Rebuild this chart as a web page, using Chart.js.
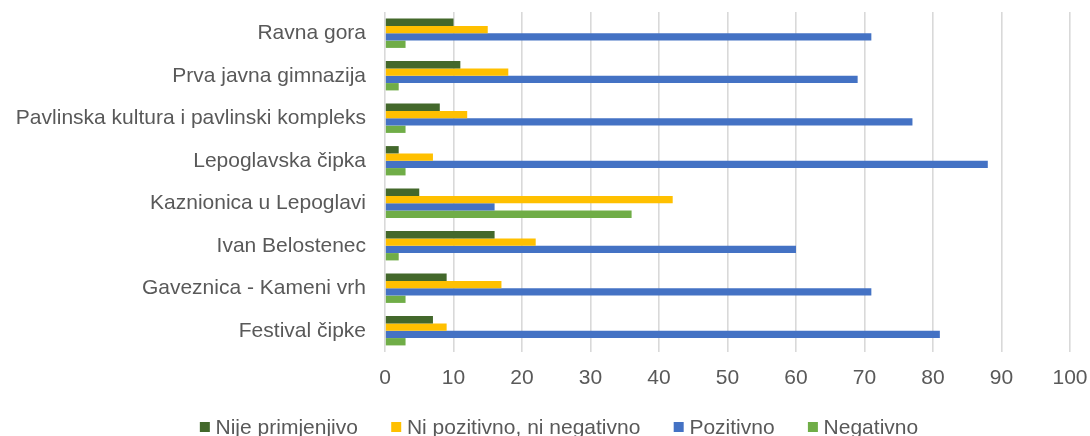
<!DOCTYPE html>
<html>
<head>
<meta charset="utf-8">
<script src="https://cdn.jsdelivr.net/npm/chart.js@4.4.1/dist/chart.umd.min.js"></script>
<style>
html,body{margin:0;padding:0;background:#fff;width:1090px;height:436px;overflow:hidden;}
#wrap{width:1090px;height:436px;position:relative;}
</style>
</head>
<body>
<div id="wrap"><canvas id="c" width="1090" height="436"></canvas></div>
<script>
const categories = ["Ravna gora","Prva javna gimnazija","Pavlinska kultura i pavlinski kompleks","Lepoglavska čipka","Kaznionica u Lepoglavi","Ivan Belostenec","Gaveznica - Kameni vrh","Festival čipke"];
const nijePrimjenjivo = [10,11,8,2,5,16,9,7];
const niPozitivnoNiNegativno = [15,18,12,7,42,22,17,9];
const pozitivno = [71,69,77,88,16,60,71,81];
const negativno = [3,2,3,3,36,2,3,3];
const xTicks = [0,10,20,30,40,50,60,70,80,90,100];

const FONT_FAMILY = '"Liberation Sans", Arial, sans-serif';
const font = {family:FONT_FAMILY, size:21};
const TEXT = '#595959';
const mk = (label, data, color) => ({label, data, backgroundColor: color, borderWidth:0, categoryPercentage:0.69, barPercentage:1.0});

// Legend drawn from the dataset labels/colours, Excel-style (small square, tight gap)
const excelLegend = {
  id:'excelLegend',
  afterDraw(chart){
    const ctx = chart.ctx;
    const items = chart.data.datasets;
    const box = 10, textOff = 15.7, gap = 33.3;
    ctx.save();
    ctx.font = '21px ' + FONT_FAMILY;
    const widths = items.map(d => ctx.measureText(d.label).width);
    const total = widths.reduce((a,b)=>a+b,0) + items.length*textOff + (items.length-1)*gap;
    let x = chart.width/2 + 14 - total/2;
    const baseline = chart.height - 1.7;
    items.forEach((d,i) => {
      ctx.fillStyle = d.backgroundColor;
      ctx.fillRect(x, baseline - 12.3, box, box);
      ctx.fillStyle = TEXT;
      ctx.textBaseline = 'alphabetic';
      ctx.textAlign = 'left';
      ctx.fillText(d.label, x + textOff, baseline);
      x += textOff + widths[i] + gap;
    });
    ctx.restore();
  }
};

new Chart(document.getElementById('c'), {
  type:'bar',
  data:{
    labels: categories,
    datasets:[
      mk('Nije primjenjivo', nijePrimjenjivo, '#43682b'),
      mk('Ni pozitivno, ni negativno', niPozitivnoNiNegativno, '#ffc000'),
      mk('Pozitivno', pozitivno, '#4472c4'),
      mk('Negativno', negativno, '#70ad47')
    ]
  },
  plugins:[excelLegend],
  options:{
    indexAxis:'y',
    responsive:false,
    animation:false,
    devicePixelRatio:1,
    layout:{padding:{left:0,right:20,top:12,bottom:0}},
    plugins:{
      legend:{display:false},
      tooltip:{enabled:false}
    },
    scales:{
      x:{
        min:0, max:100,
        afterBuildTicks: s => { s.ticks = xTicks.map(v => ({value:v})); },
        afterFit: s => { s.height = 84; s.paddingLeft = 0; s.paddingRight = 0; },
        ticks:{font:font, color:TEXT, padding:14},
        grid:{color:'#d9d9d9', lineWidth:1.6, drawTicks:false},
        border:{display:false}
      },
      y:{
        afterFit: s => { s.width = 385; s.paddingTop = 0; s.paddingBottom = 0; },
        ticks:{font:font, color:TEXT, padding:19},
        grid:{display:false, drawTicks:false},
        border:{display:false}
      }
    }
  }
});
</script>
</body>
</html>
